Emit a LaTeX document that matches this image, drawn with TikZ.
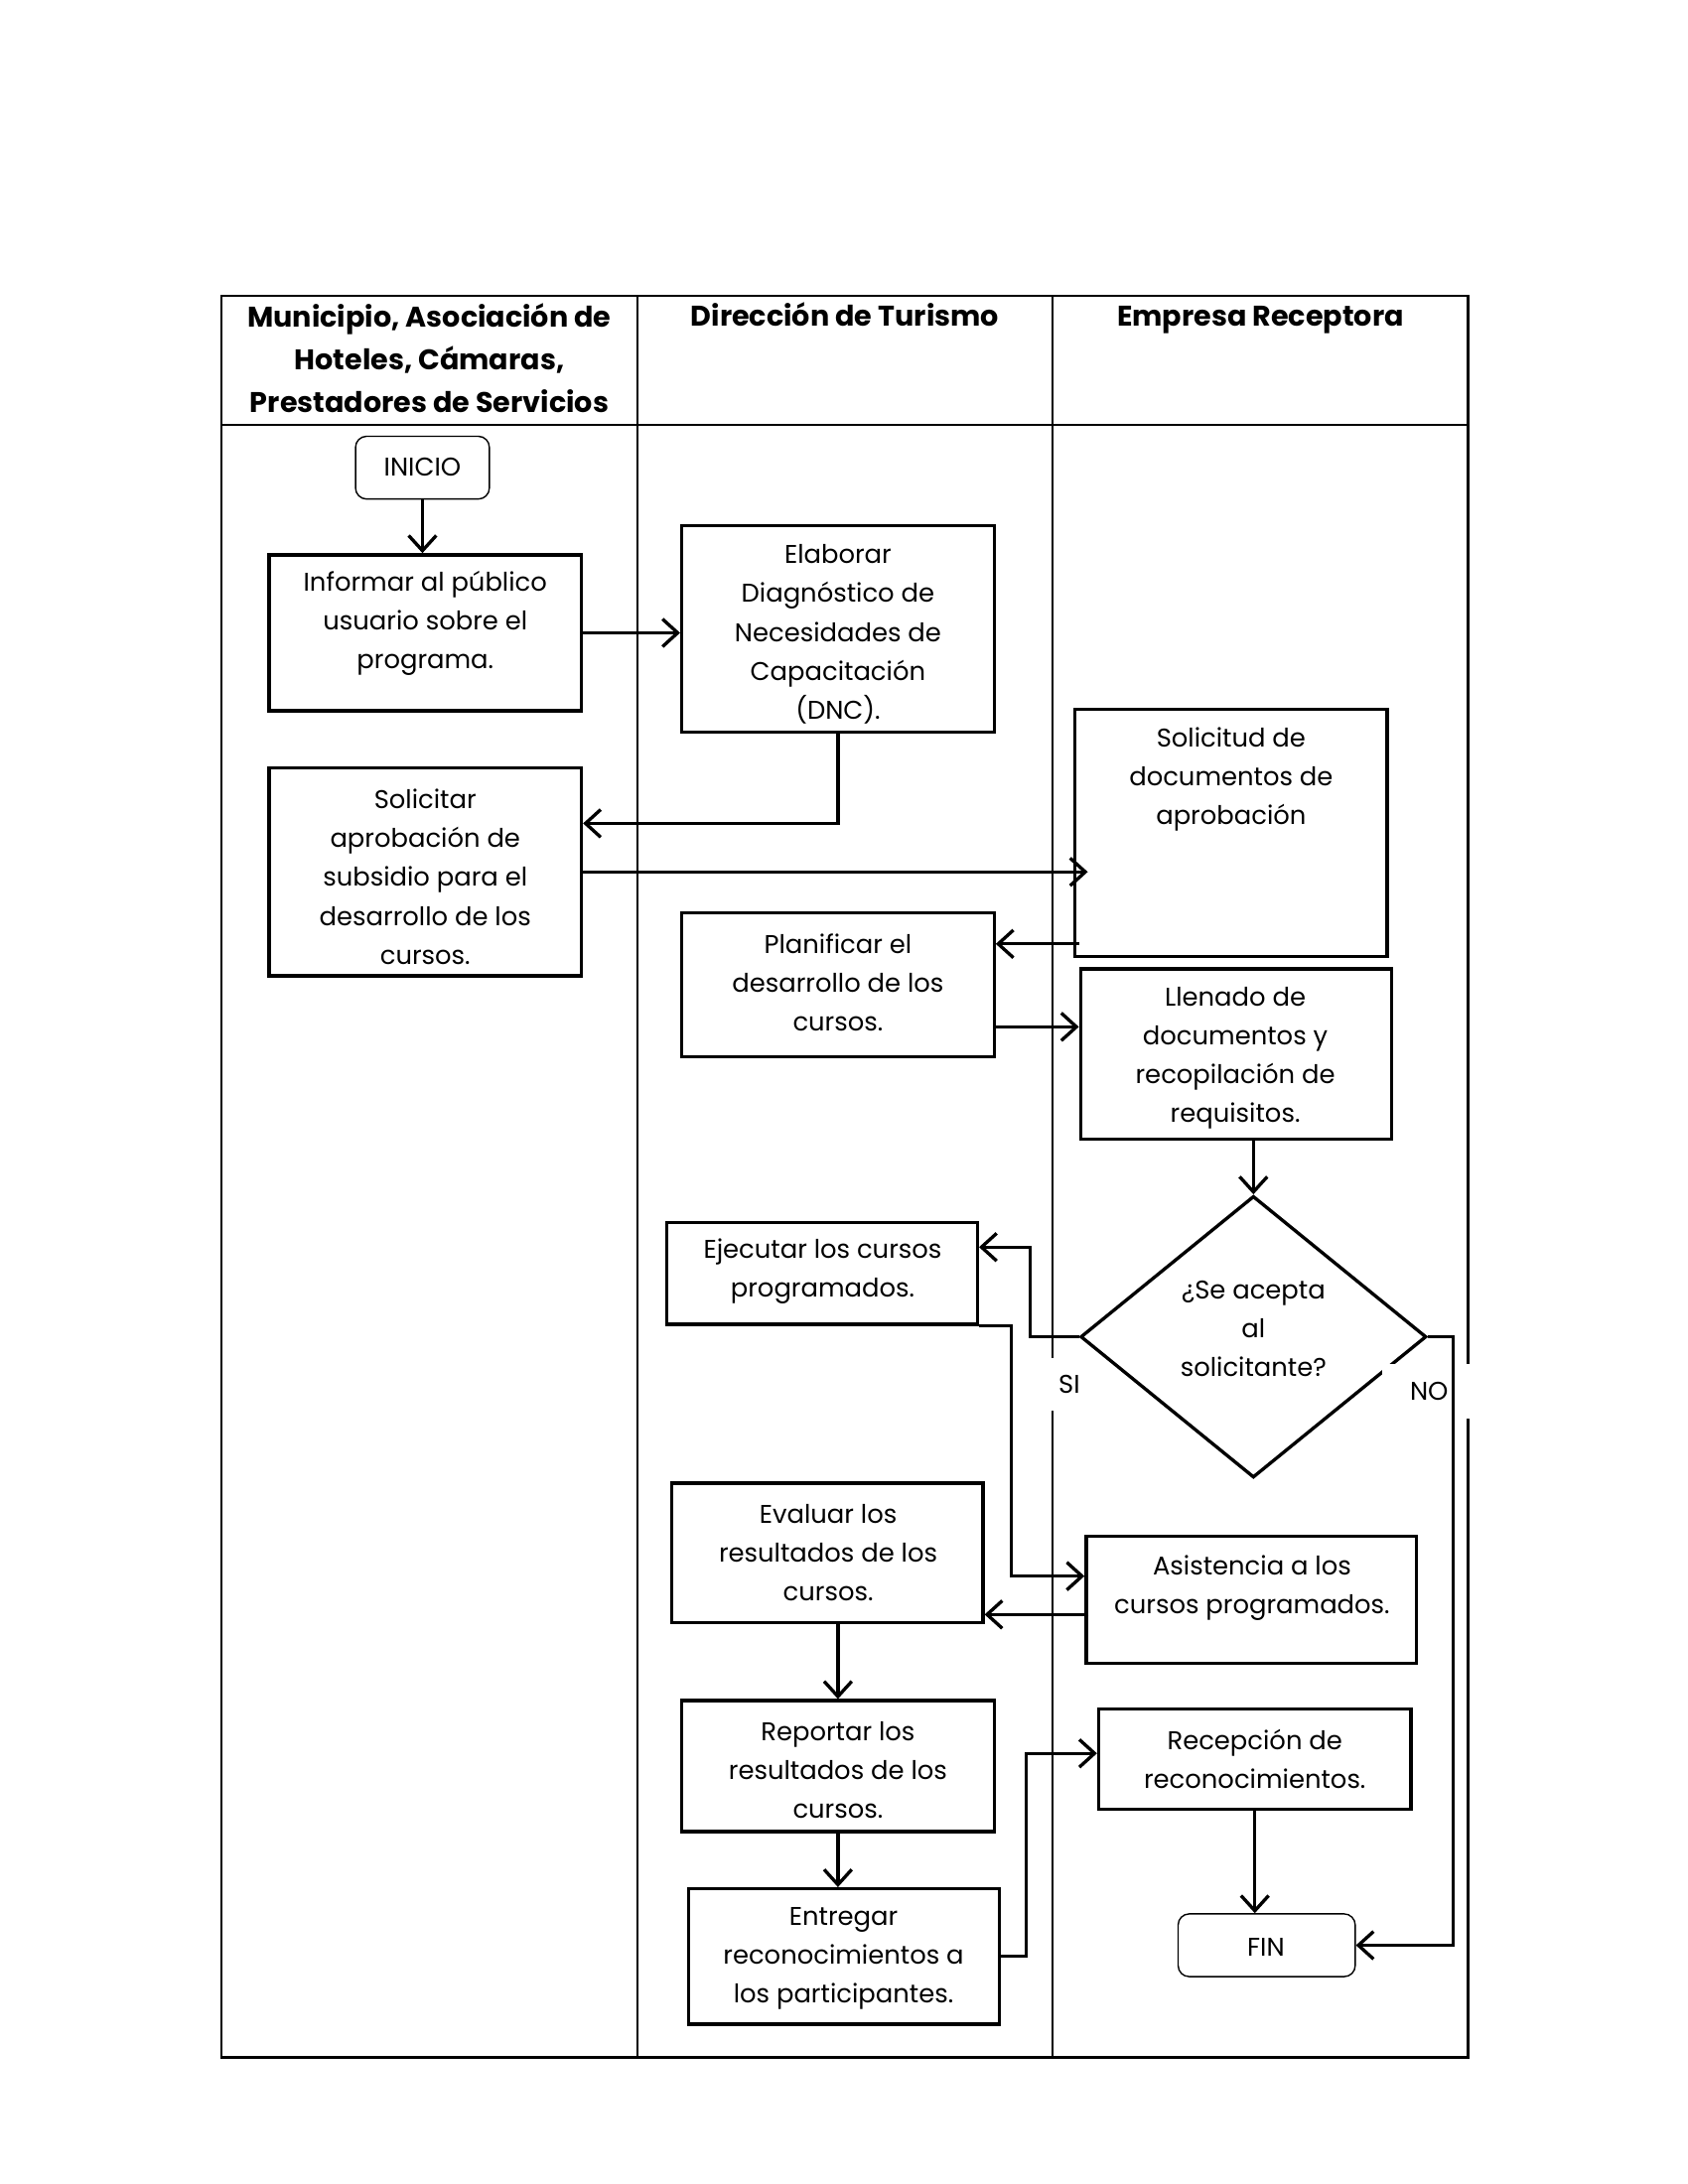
\documentclass[tikz,border=0pt]{standalone}
\usepackage{fontspec}
\setmainfont{Poppins}
\usetikzlibrary{arrows.meta,shapes.geometric,fit,calc}
\begin{document}
\begin{tikzpicture}[x=0.5055pt,y=-0.5055pt,
  box/.style={draw, line width=1.2pt, rectangle, inner sep=0pt},
  term/.style={draw, line width=0.5pt, rounded corners=4pt, inner sep=0pt},
  txt/.style={align=center, font=\fontsize{9.3}{14.1}\selectfont, inner sep=0pt},
  hdr/.style={align=center, font=\fontsize{10.3}{15.6}\selectfont\bfseries, inner sep=0pt},
  conn/.style={line width=1.2pt, -{Straight Barb[length=5.5pt,width=10pt,line width=1.2pt]}},
  grid/.style={line width=0.8pt},
  lbl/.style={fill=white, font=\fontsize{9.3}{11}\selectfont, inner sep=0pt}]
\useasboundingbox (0pt,0pt) rectangle (612pt,-792pt);
% table
\draw[grid] (159,212) rectangle (1053,1476);
\draw[grid] (159,305) -- (1053,305);
\draw[grid] (457,212) -- (457,1476);
\draw[grid] (755,212) -- (755,1476);
\node[hdr, anchor=north] (h1) at (308,217) {Municipio, Asociación de\\Hoteles, Cámaras,\\Prestadores de Servicios};
\node[hdr, anchor=base] (h2) at (606,234) {Dirección de Turismo};
\node[hdr, anchor=base] (h3) at (904,234) {Empresa Receptora};
% boxes
\node[term, fit={(255,313) (351,358)}] (ini) {};
\node[txt] (tini) at (303,335) {INICIO};
\node[box, fit={(193,398) (417,510)}] (inf) {};
\node[txt] (tinf) at (305,447) {Informar al público\\usuario sobre el\\programa.};
\node[box, fit={(489,377) (713,525)}] (ela) {};
\node[txt] (tela) at (601,455) {Elaborar\\Diagnóstico de\\Necesidades de\\Capacitación\\(DNC).};
\node[box, fit={(193,551) (417,700)}] (sol) {};
\node[txt] (tsol) at (305,629) {Solicitar\\aprobación de\\subsidio para el\\desarrollo de los\\cursos.};
\node[box, fit={(771,509) (995,686)}] (sdoc) {};
\node[txt] (tsdoc) at (883,559) {Solicitud de\\documentos de\\aprobación};
\node[box, fit={(489,655) (713,758)}] (plan) {};
\node[txt] (tplan) at (601,705) {Planificar el\\desarrollo de los\\cursos.};
\node[box, fit={(775,695) (998,817)}] (llen) {};
\node[txt] (tllen) at (886,759) {Llenado de\\documentos y\\recopilación de\\requisitos.};
\node[diamond, draw, line width=1.2pt, inner sep=0pt, minimum width=248*0.5055pt, minimum height=202*0.5055pt] (dia) at (899,959) {};
\node[txt] (tdia) at (899,953) {¿Se acepta\\al\\solicitante?};
\node[box, fit={(478,877) (701,950)}] (eje) {};
\node[txt] (teje) at (590,912) {Ejecutar los cursos\\programados.};
\node[box, fit={(779,1102) (1016,1193)}] (asi) {};
\node[txt] (tasi) at (898,1139) {Asistencia a los\\cursos programados.};
\node[box, fit={(482,1064) (705,1164)}] (eva) {};
\node[txt] (teva) at (594,1114) {Evaluar los\\resultados de los\\cursos.};
\node[box, fit={(489,1220) (713,1314)}] (rep) {};
\node[txt] (trep) at (601,1270) {Reportar los\\resultados de los\\cursos.};
\node[box, fit={(494,1355) (717,1452)}] (ent) {};
\node[txt] (tent) at (605,1405) {Entregar\\reconocimientos a\\los participantes.};
\node[box, fit={(788,1226) (1012,1298)}] (rec) {};
\node[txt] (trec) at (900,1262) {Recepción de\\reconocimientos.};
\node[term, fit={(845,1373) (972,1418)}] (fin) {};
\node[txt] (tfin) at (908,1397) {FIN};
% labels
\node[lbl, minimum width=22pt, minimum height=19pt] (si) at (767,993) {SI};
\node[lbl, minimum width=34pt, minimum height=20pt] (no) at (1025,998) {NO};
% helper coordinates on box sides
\coordinate (c1) at ($(sol.north east)!0.27!(sol.south east)$);
\coordinate (c2) at ($(sdoc.north west)!0.944!(sdoc.south west)$);
\coordinate (c3) at ($(plan.north east)!0.786!(plan.south east)$);
\coordinate (c4) at ($(eje.north east)!0.25!(eje.south east)$);
\coordinate (c5) at ($(asi.north west)!0.32!(asi.south west)$);
\coordinate (c6) at ($(asi.north west)!0.615!(asi.south west)$);
\coordinate (c7) at ($(rec.north west)!0.444!(rec.south west)$);
% connectors
\draw[conn] (ini.south) -- (ini.south |- inf.north);
\draw[conn] (inf.east) -- (inf.east -| ela.west);
\draw[conn] (ela.south) |- (c1);
\draw[conn] (sol.east) -- ++(362,0);
\draw[conn] ([xshift=2pt]c2) -- (c2 -| plan.east);
\draw[conn] (c3) -- (c3 -| llen.west);
\draw[conn] (dia.north |- llen.south) -- (dia.north);
\draw[conn] (dia.west) -- ++(-35,0) |- (c4);
\draw[conn] (dia.east) -- ++(18,0) |- (fin.east);
\draw[conn] (eje.south east) -- ++(23,0) |- (c5);
\draw[conn] ([xshift=1.5pt]c6) -- (c6 -| eva.east);
\draw[conn] (rep.north |- eva.south) -- (rep.north);
\draw[conn] (rep.south) -- (rep.south |- ent.north);
\draw[conn] (ent.east) -- ++(18,0) |- (c7);
\draw[conn] (rec.south) -- (rec.south |- fin.north);
\end{tikzpicture}
\end{document}
